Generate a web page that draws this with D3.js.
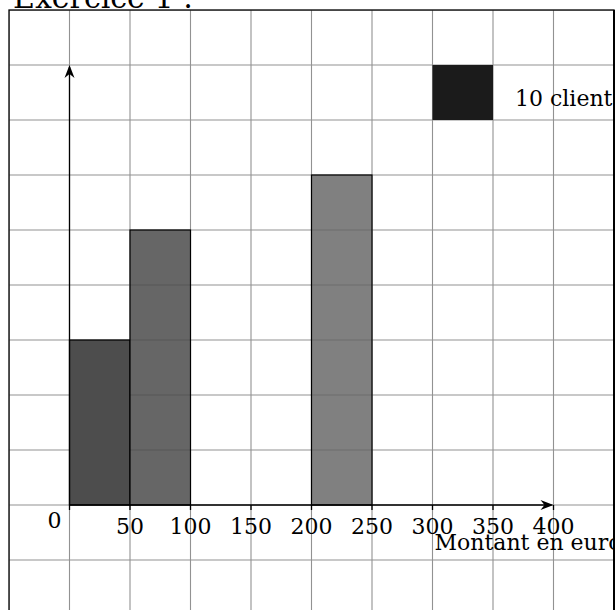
<!DOCTYPE html>
<html>
<head>
<meta charset="utf-8">
<script src="https://cdn.jsdelivr.net/npm/d3@7"></script>
<style>
  html, body { margin: 0; padding: 0; background: #fff; }
  svg { display: block; }
  text { font-family: "DejaVu Serif", serif; fill: #000; }
</style>
</head>
<body>
<svg id="chart" width="615" height="610"></svg>
<script>
// ---- data ----
const classStart = [0, 50, 200];
const classEnd = [50, 100, 250];
const clients = [30, 50, 60];
const barColors = ["#4d4d4d", "#666666", "#808080"];
const xTicks = [0, 50, 100, 150, 200, 250, 300, 350, 400];
const legendClients = 10;        // one grid cell = 10 clients
const legendLabel = "10 clients";
const xLabel = "Montant en euro";
const title = "Exercice 1 :";

// ---- scales ----
const svg = d3.select("#chart");
const x = d3.scaleLinear().domain([-50, 450]).range([9, 614]);
const y = d3.scaleLinear().domain([-2, 9]).range([615, 10]); // y in grid cells
const cellW = 50;

svg.append("defs").append("clipPath").attr("id", "frame")
  .append("rect").attr("x", x(-50)).attr("y", y(9))
  .attr("width", x(450) - x(-50)).attr("height", y(-2) - y(9));

const g = svg.append("g").attr("clip-path", "url(#frame)");

// grid
const vx = d3.range(-50, 451, 50);
const hy = d3.range(-2, 10, 1);
const grid = g.append("g").attr("stroke", "#929292").attr("stroke-width", 1.1);
grid.selectAll("line.v").data(vx).join("line").attr("class", "v")
  .attr("x1", d => x(d)).attr("x2", d => x(d)).attr("y1", y(-2)).attr("y2", y(9));
grid.selectAll("line.h").data(hy).join("line").attr("class", "h")
  .attr("y1", d => y(d)).attr("y2", d => y(d)).attr("x1", x(-50)).attr("x2", x(450));

// bars (height in cells: area = clients / legendClients cells)
const bars = classStart.map((s, i) => ({
  s, e: classEnd[i], n: clients[i], c: barColors[i],
  h: (clients[i] / legendClients) / ((classEnd[i] - s) / cellW)
}));
g.selectAll("rect.bar").data(bars).join("rect").attr("class", "bar")
  .attr("x", d => x(d.s)).attr("width", d => x(d.e) - x(d.s))
  .attr("y", d => y(d.h)).attr("height", d => y(0) - y(d.h))
  .attr("fill", d => d.c).attr("stroke", "#000").attr("stroke-width", 1.2);

// faint grid showing through the lighter bars
const overlay = g.append("g").attr("stroke", "rgba(0,0,0,0.16)").attr("stroke-width", 1);
bars.slice(1).forEach(d => {
  overlay.selectAll(null).data(d3.range(1, Math.round(d.h))).join("line")
    .attr("x1", x(d.s)).attr("x2", x(d.e)).attr("y1", k => y(k)).attr("y2", k => y(k));
});

// legend square
g.append("rect").attr("x", x(300)).attr("y", y(8))
  .attr("width", x(350) - x(300)).attr("height", y(7) - y(8))
  .attr("fill", "#1b1b1b");
g.append("text").attr("x", x(350) + 22).attr("y", y(7.25))
  .attr("font-size", 22).text(legendLabel);

// axes
const ax = g.append("g").attr("stroke", "#000").attr("stroke-width", 1.3);
ax.append("line").attr("x1", x(0)).attr("x2", x(400) - 2).attr("y1", y(0)).attr("y2", y(0));
ax.append("line").attr("x1", x(0)).attr("x2", x(0)).attr("y1", y(0)).attr("y2", y(8) + 2);
// arrowheads
g.append("path").attr("fill", "#000")
  .attr("d", `M${x(400)},${y(0)} l-13,-5 l4,5 l-4,5 z`);
g.append("path").attr("fill", "#000")
  .attr("d", `M${x(0)},${y(8)} l-5,13 l5,-4 l5,4 z`);

// ticks
ax.selectAll("line.t").data(xTicks).join("line").attr("class", "t")
  .attr("x1", d => x(d)).attr("x2", d => x(d)).attr("y1", y(0)).attr("y2", y(0) + 5);

// tick labels
g.selectAll("text.tl").data(xTicks).join("text").attr("class", "tl")
  .attr("x", d => d === 0 ? x(d) - 15 : x(d))
  .attr("y", d => d === 0 ? y(0) + 23 : y(0) + 29)
  .attr("text-anchor", "middle").attr("font-size", 22)
  .text(d => d);

g.append("text").attr("x", x(300) + 2).attr("y", y(0) + 45)
  .attr("font-size", 22).text(xLabel);

// frame
svg.append("rect").attr("x", x(-50)).attr("y", y(9))
  .attr("width", x(450) - x(-50)).attr("height", y(-2) - y(9))
  .attr("fill", "none").attr("stroke", "#000").attr("stroke-width", 1.3);
svg.append("line").attr("x1", 614).attr("x2", 614).attr("y1", y(9)).attr("y2", 610)
  .attr("stroke", "#000").attr("stroke-width", 2);

// title
svg.append("text").attr("x", 13).attr("y", 8).attr("font-size", 30).text(title);
</script>
</body>
</html>
